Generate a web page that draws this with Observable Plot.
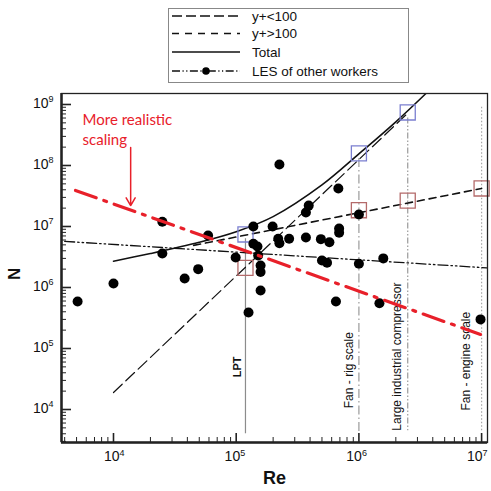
<!DOCTYPE html>
<html><head><meta charset="utf-8">
<script src="https://cdn.jsdelivr.net/npm/d3@7"></script>
<script src="https://cdn.jsdelivr.net/npm/@observablehq/plot@0.6"></script>
<style>
body{margin:0;background:#fff;}
#wrap{position:relative;width:491px;height:491px;}
#legend{position:absolute;left:168px;top:8px;}
</style></head><body>
<div id="wrap"><div id="chart"></div><svg id="legend" width="242" height="76"></svg></div>
<script>
// ---- data ----
const dotRe = [5.1e3,1e4,2.5e4,2.5e4,3.8e4,4.9e4,5.9e4,9.9e4,1.26e5,1.38e5,1.98e5,2.25e5,1.38e5,1.49e5,1.51e5,1.58e5,1.58e5,1.58e5,2.2e5,2.25e5,2.7e5,3.7e5,3.7e5,3.9e5,4.9e5,5.75e5,5.0e5,5.5e5,6.8e5,6.9e5,6.9e5,1e6,1e6,1.58e6,6.5e5,1.47e6,9.8e6];
const dotN  = [5.9e5,1.16e6,1.2e7,3.6e6,1.4e6,2.0e6,7.1e6,3.1e6,3.9e5,1.0e7,1.0e7,1.04e8,5.2e6,4.7e6,3.35e6,2.3e6,1.8e6,8.9e5,6.3e6,5.3e6,6.3e6,6.6e6,1.7e7,2.2e7,6.2e6,5.5e6,2.77e6,2.55e6,4.2e7,9.3e6,7.9e6,1.57e7,2.45e6,3.0e6,5.9e5,5.5e5,3.0e5];

const ltRe = [1e4, 2.5e6];          const ltN = [1.9e4, 7.2e8];      // y+<100
const gtRe = [4.5e4, 1e7];          const gtN = [4.9e6, 4.2e7];      // y+>100
const totRe = [1e4,2e4,5e4,1e5,2e5,5e5,1e6,2e6,3.5e6];
const totN  = [2.7e6,3.6e6,5.5e6,8.2e6,1.45e7,4.8e7,1.55e8,5.2e8,1.5e9]; // Total
const lesRe = [4e3, 1.1e7];         const lesN = [5.7e6, 2.1e6];     // LES of other workers
const redRe = [4.9e3, 9.8e6];       const redN = [3.9e7, 1.7e5];     // More realistic scaling

const sqBlueRe = [1.19e5, 1e6, 2.5e6];      const sqBlueN = [7.4e6, 1.58e8, 7.4e8];
const sqRedRe  = [1.19e5, 1e6, 2.5e6, 1e7]; const sqRedN  = [2.1e6, 1.85e7, 2.65e7, 4.2e7];

const vRe     = [1.19e5, 1e6, 2.5e6, 1e7];
const vTop    = [6.3e6, 1.3e8, 6.0e8, 9e8];
const vBottom = [4e3, 4e3, 4.5e3, 4.5e3];
const vLabels = ["LPT", "Fan - rig scale", "Large industrial compressor", "Fan - engine scale"];
const vLabelN = [5.0e4, 1.05e4, 4.5e3, 9.6e3];

const xTicks = [1e4, 1e5, 1e6, 1e7];             const xTickExp = ["4","5","6","7"];
const yTicks = [1e4, 1e5, 1e6, 1e7, 1e8, 1e9];   const yTickExp = ["4","5","6","7","8","9"];
const legendLabels = ["y+<100", "y+>100", "Total", "LES of other workers"];
const annotation = "More realistic\nscaling";
const annRe = [5.6e3], annN = [8e8];
const arrowRe = [1.38e4], arrowN1 = [1.97e8], arrowN2 = [2.2e7];

// ---- build tables ----
const rows = (a, b) => a.map((v, i) => ({Re: v, N: b[i]}));
const dots = rows(dotRe, dotN);
const lt = rows(ltRe, ltN), gt = rows(gtRe, gtN), tot = rows(totRe, totN);
const les = rows(lesRe, lesN), red = rows(redRe, redN);
const sqBlue = rows(sqBlueRe, sqBlueN), sqRed = rows(sqRedRe, sqRedN);
const verts = vRe.map((r, i) => ({Re: r, top: vTop[i], bottom: vBottom[i], label: vLabels[i], ly: vLabelN[i], k: i}));
const xDom = [3769, 1.117e7], yDom = [2878, 1.514e9];
const minorX = [], minorY = [];
for (let e = 3; e <= 7; e++) for (let m = 2; m <= 9; m++) { const v = m * 10 ** e; if (v > xDom[0] && v < xDom[1]) minorX.push(v); }
for (let e = 3; e <= 9; e++) for (let m = 2; m <= 9; m++) { const v = m * 10 ** e; if (v > yDom[0] && v < yDom[1]) minorY.push(v); }

const vStyles = [
  {stroke: "#8c8c8c", strokeDasharray: null},
  {stroke: "#9a9a9a", strokeDasharray: "9,3,1.5,3"},
  {stroke: "#9a9a9a", strokeDasharray: "6,2,1.5,2,1.5,2"},
  {stroke: "#a8a8a8", strokeDasharray: "1.5,2"}
];
const vDx = [-8, -10, -11, -15];
const xLabDx = [6, 4, 3, 1];
const FONT = "Liberation Sans, Arial, Helvetica, sans-serif";
const RED = "#e8202a";

const chart = Plot.plot({
  width: 491, height: 491,
  marginLeft: 61, marginRight: 4, marginTop: 93, marginBottom: 49,
  x: {type: "log", domain: xDom},
  y: {type: "log", domain: yDom},
  style: {fontFamily: FONT, background: "white", color: "#111"},
  marks: [
    // vertical reference lines
    ...verts.map((v, i) => Plot.ruleX([v], {x: "Re", y1: "top", y2: "bottom", stroke: vStyles[i].stroke, strokeWidth: 1.2, strokeDasharray: vStyles[i].strokeDasharray})),
    ...verts.map((v, i) => Plot.text([v], {x: "Re", y: "ly", text: "label", rotate: -90, textAnchor: i === 0 ? "middle" : "start", dx: vDx[i], fontSize: i === 0 ? 11 : 12, fontWeight: i === 0 ? "bold" : "normal", fill: "#111"})),
    // model lines
    Plot.line(lt, {x: "Re", y: "N", stroke: "#111", strokeWidth: 1.2, strokeDasharray: "12,5"}),
    Plot.line(gt, {x: "Re", y: "N", stroke: "#111", strokeWidth: 1.6, strokeDasharray: "7,5"}),
    Plot.line(tot, {x: "Re", y: "N", stroke: "#111", strokeWidth: 1.6, curve: "catmull-rom", clip: true}),
    Plot.line(les, {x: "Re", y: "N", stroke: "#111", strokeWidth: 1.3, strokeDasharray: "10,3,1.5,3,1.5,3"}),
    // squares
    Plot.dot(sqBlue, {x: "Re", y: "N", symbol: "square", r: 8.5, stroke: "#7b7fd0", strokeWidth: 1.3, fill: "none"}),
    Plot.dot(sqRed, {x: "Re", y: "N", symbol: "square", r: 8.5, stroke: "#b46a6a", strokeWidth: 1.3, fill: "none"}),
    // data points
    Plot.dot(dots, {x: "Re", y: "N", r: 5, fill: "#000"}),
    // red scaling line
    Plot.line(red, {x: "Re", y: "N", stroke: RED, strokeWidth: 3.2, strokeDasharray: "22,8,3,8"}),
    Plot.arrow(arrowRe.map((r, i) => ({x: r, y1: arrowN1[i], y2: arrowN2[i]})), {x1: "x", x2: "x", y1: "y1", y2: "y2", stroke: RED, strokeWidth: 1.5, headLength: 9}),
    Plot.text(annRe.map((r, i) => ({x: r, y: annN[i], t: annotation})), {x: "x", y: "y", text: "t", textAnchor: "start", lineAnchor: "top", fontSize: 15, lineHeight: 1.33, fill: RED, fontFamily: "Lato, sans-serif"}),
    // frame & axes
    Plot.frame({stroke: "#222", strokeWidth: 1.3}),
    Plot.ruleX([xDom[0]], {stroke: "#222", strokeWidth: 2.5}),
    Plot.ruleY([yDom[0]], {stroke: "#222", strokeWidth: 2.5}),
    Plot.axisX(xTicks, {tickSize: -9, tickFormat: () => "", stroke: "#222", strokeWidth: 1.6}),
    Plot.axisX(minorX, {tickSize: -5, tickFormat: () => "", stroke: "#222", strokeWidth: 1}),
    Plot.axisY(yTicks, {tickSize: -10, tickFormat: () => "", stroke: "#222", strokeWidth: 1.6}),
    Plot.axisY(minorY, {tickSize: -5, tickFormat: () => "", stroke: "#222", strokeWidth: 1}),
    // tick labels (10 with superscript exponent)
    ...xTicks.map((t, i) => Plot.text([t], {x: d => d, frameAnchor: "bottom", text: () => "10", textAnchor: "end", dx: xLabDx[i], dy: 18, fontSize: 14, fill: "#111"})),
    ...xTicks.map((t, i) => Plot.text([t], {x: d => d, frameAnchor: "bottom", text: () => xTickExp[i], textAnchor: "start", dx: xLabDx[i], dy: 13, fontSize: 9, fill: "#111"})),
    Plot.text(yTicks, {y: d => d, frameAnchor: "left", text: () => "10", textAnchor: "end", dx: -13, dy: -1, fontSize: 14, fill: "#111"}),
    Plot.text(yTicks, {y: d => d, frameAnchor: "left", text: (d, i) => yTickExp[i], textAnchor: "start", dx: -13, dy: -5, fontSize: 9, fill: "#111"}),
    // axis titles
    Plot.text(["N"], {frameAnchor: "left", text: d => d, rotate: -90, dx: -47, dy: 12, fontSize: 17, fontWeight: "bold", fill: "#111"}),
    Plot.text(["Re"], {frameAnchor: "bottom", text: d => d, dy: 41, fontSize: 18, fontWeight: "bold", fill: "#111"})
  ]
});
document.getElementById("chart").appendChild(chart);

// ---- legend ----
const lg = d3.select("#legend");
lg.append("rect").attr("x", 0.5).attr("y", 0.5).attr("width", 240).attr("height", 74).attr("fill", "white").attr("stroke", "#888").attr("stroke-width", 1);
const lgY = [8, 25.5, 44, 63];
const lgDash = ["10,4", "7,6", null, "8,2.5,1.2,2.5,1.2,2.5"];
legendLabels.forEach((lab, i) => {
  const l = lg.append("line").attr("x1", 4).attr("x2", 72).attr("y1", lgY[i]).attr("y2", lgY[i]).attr("stroke", "#111").attr("stroke-width", 1.4);
  if (lgDash[i]) l.attr("stroke-dasharray", lgDash[i]);
  lg.append("text").attr("x", 84).attr("y", lgY[i]).attr("dy", "0.35em").attr("font-family", FONT).attr("font-size", 13.5).attr("fill", "#111").text(lab);
});
lg.append("circle").attr("cx", 38).attr("cy", lgY[3]).attr("r", 3.8).attr("fill", "#000");
</script>
</body></html>
